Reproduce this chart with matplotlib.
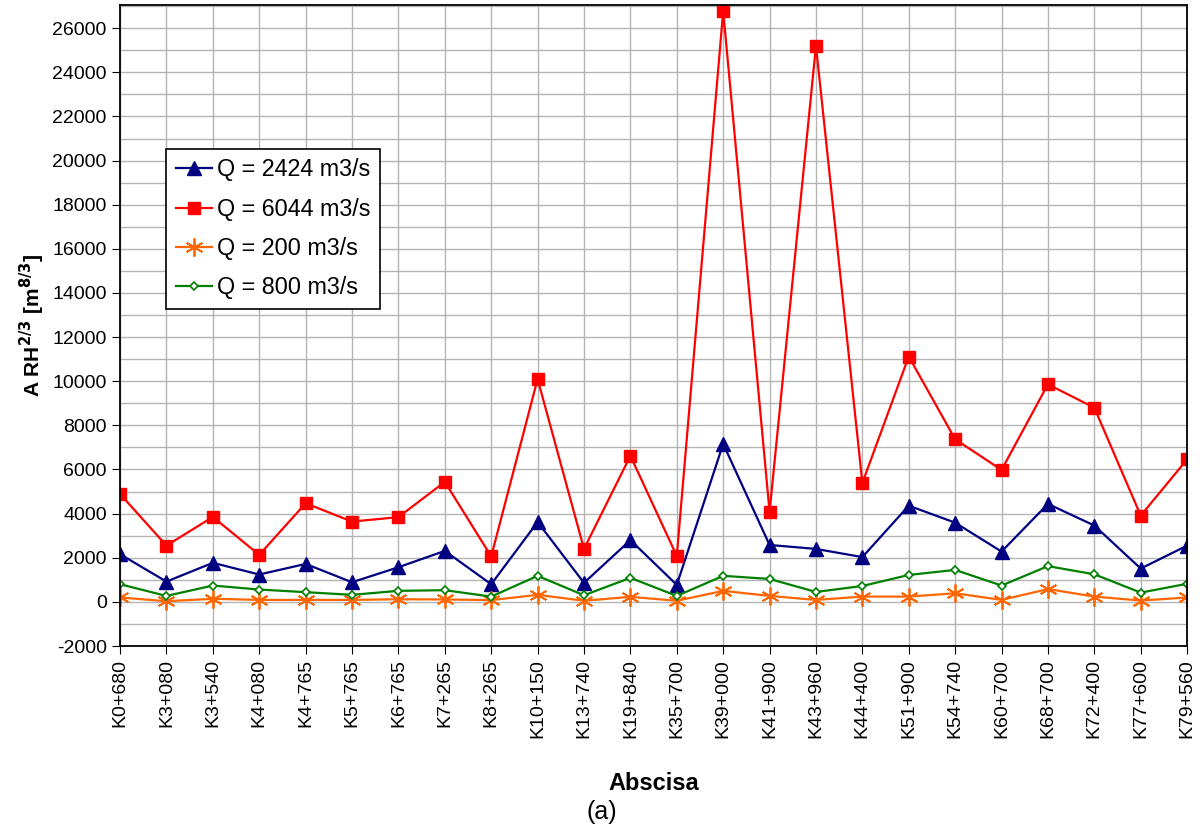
import numpy as np
import matplotlib
matplotlib.use('Agg')
import matplotlib.pyplot as plt
from matplotlib.ticker import MultipleLocator

plt.rcParams['font.family'] = ['Liberation Sans', 'DejaVu Sans']
plt.rcParams['axes.unicode_minus'] = False

# data
abscisas = ['K0+680', 'K3+080', 'K3+540', 'K4+080', 'K4+765', 'K5+765', 'K6+765',
            'K7+265', 'K8+265', 'K10+150', 'K13+740', 'K19+840', 'K35+700', 'K39+000',
            'K41+900', 'K43+960', 'K44+400', 'K51+900', 'K54+740', 'K60+700',
            'K68+700', 'K72+400', 'K77+600', 'K79+560']
q2424 = [2160, 920, 1770, 1240, 1720, 890, 1570, 2310, 800, 3620, 860, 2800, 770, 7160,
         2580, 2400, 2030, 4360, 3590, 2280, 4440, 3460, 1510, 2550]
q6044 = [4890, 2550, 3850, 2130, 4470, 3640, 3840, 5440, 2060, 10100, 2400, 6620, 2080,
         26780, 4080, 25200, 5390, 11120, 7370, 5980, 9860, 8800, 3910, 6460]
q200 = [200, 30, 140, 90, 90, 90, 120, 110, 80, 320, 50, 230, 50, 500, 270, 90, 240,
        240, 390, 90, 580, 240, 60, 200]
q800 = [800, 270, 740, 560, 440, 320, 500, 530, 240, 1180, 300, 1090, 270, 1180, 1040,
        450, 720, 1220, 1450, 740, 1620, 1250, 420, 820]

fig = plt.figure(figsize=(12.03, 8.34), dpi=100)
ax = fig.add_axes([0.0998, 0.2254, 0.887, 0.7686])

x = np.arange(len(abscisas))
ax.plot(x, q2424, color='#000080', lw=1.6, marker='^', ms=9.5, label='Q = 2424 m3/s')
ax.plot(x, q6044, color='#ff0000', lw=1.6, marker='s', ms=9, label='Q = 6044 m3/s')
ax.plot(x, q200, color='#ff6600', lw=1.6, marker=(6, 2, 0), ms=13, mew=1.3,
        label='Q = 200 m3/s')
ax.plot(x, q800, color='#008000', lw=1.6, marker='D', ms=4.5, mfc='white', mew=1.2,
        label='Q = 800 m3/s')

ax.set_xlim(0, len(abscisas) - 1)
ax.set_ylim(-2000, 27050)
ax.set_xticks(x)
ax.set_xticklabels(abscisas, rotation=90, fontsize=14)
ax.yaxis.set_major_locator(MultipleLocator(2000))
ax.yaxis.set_minor_locator(MultipleLocator(1000))
ax.tick_params(axis='y', labelsize=14, direction='out', length=6)
ax.tick_params(axis='y', which='minor', length=0)
ax.tick_params(axis='x', direction='out', length=6)
ax.grid(True, which='both', color='#b4b4b4', lw=1)
ax.set_axisbelow(True)
for s in ax.spines.values():
    s.set_linewidth(1.3)

ax.set_ylabel(r'A RH$^{\mathbf{2/3}}$ [m$^{\mathbf{8/3}}$]', fontsize=15, fontweight='bold',
              labelpad=4)
ax.set_xlabel('Abscisa', fontsize=17, fontweight='bold', labelpad=24)
fig.text(0.5, 0.026, '(a)', fontsize=18, ha='center', va='center')

leg = ax.legend(loc='upper left', bbox_to_anchor=(0.0435, 0.776), fontsize=16.8,
                fancybox=False, framealpha=1, edgecolor='black', labelspacing=0.7,
                handlelength=1.55, handletextpad=0.2, borderpad=0.42, borderaxespad=0)
leg.get_frame().set_linewidth(1.2)

fig.savefig('out.png', dpi=100)
